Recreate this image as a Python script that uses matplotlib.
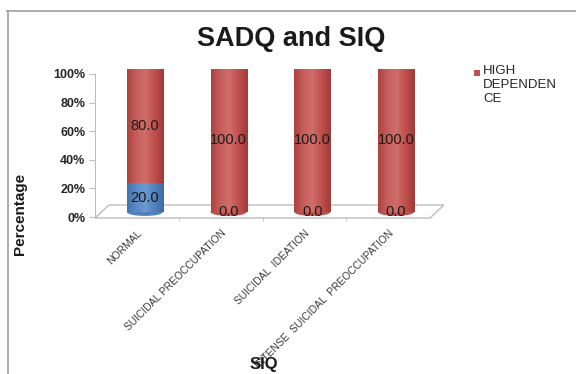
import numpy as np
import matplotlib
matplotlib.use('Agg')
import matplotlib.pyplot as plt
import matplotlib.transforms as mtransforms
from matplotlib.colors import LinearSegmentedColormap
from matplotlib.patches import Ellipse, Polygon, Rectangle
from matplotlib.lines import Line2D

plt.rcParams['font.family'] = ['Liberation Sans', 'DejaVu Sans']

categories = ['NORMAL', 'SUICIDAL PREOCCUPATION', 'SUICIDAL  IDEATION',
              'INTENSE  SUICIDAL  PREOCCUPATION']
lower_dep = [20.0, 0.0, 0.0, 0.0]
high_dep = [80.0, 100.0, 100.0, 100.0]
yticks = [0, 20, 40, 60, 80, 100]

W, H = 576, 374
fig = plt.figure(figsize=(W / 100, H / 100), dpi=100)


def fx(px):
    return px / W


def fy(py):
    return (H - py) / H


# outer chart border (only top and left visible in the crop)
fig.add_artist(Line2D([fx(7), fx(W)], [fy(11), fy(11)], color='#a6a6a6', lw=1.3))
fig.add_artist(Line2D([fx(8), fx(8)], [fy(11), fy(H)], color='#a6a6a6', lw=1.3))

ax_l, ax_r, ax_t, ax_b = 95, 430, 74, 217
ax = fig.add_axes([fx(ax_l), fy(ax_b), fx(ax_r - ax_l), (ax_b - ax_t) / H])
ax.patch.set_alpha(0)

# 3d floor
dx, dy = 14, 13
floor = Polygon([[fx(ax_l), fy(ax_b + 1)], [fx(ax_r), fy(ax_b + 1)],
                 [fx(ax_r + dx), fy(ax_b + 1 - dy)], [fx(ax_l + dx), fy(ax_b + 1 - dy)]],
                closed=True, transform=fig.transFigure, facecolor='white',
                edgecolor='#bdbdbd', lw=1.0, zorder=0)
fig.add_artist(floor)

# bars sit in the middle of the floor depth
shift = mtransforms.offset_copy(ax.transData, fig=fig, x=8, y=5, units='dots')

x = np.arange(len(categories))
bw = 0.43
series = [(lower_dep, '#4f81bd', ['#4372ad', '#5a8bc8', '#6c99d1', '#4f81bd', '#3d6ca5']),
          (high_dep, '#c0504d', ['#ad423f', '#c65f5c', '#cf6d6a', '#c0504d', '#a03b38'])]

grad = np.linspace(0, 1, 80).reshape(1, -1)
bottom = np.zeros(len(categories))
cap_h = 5.5
for vals, col, shades in series:
    cmap = LinearSegmentedColormap.from_list('cyl', shades)
    bars = ax.bar(x, vals, bw, bottom=bottom, color=col, transform=shift,
                  linewidth=0, zorder=3)
    for p in bars:
        if p.get_height() <= 0:
            continue
        x0, y0 = p.get_x(), p.get_y()
        im = ax.imshow(grad, cmap=cmap, aspect='auto', interpolation='bilinear',
                       extent=(x0, x0 + p.get_width(), y0, y0 + p.get_height()),
                       transform=shift, zorder=3.1)
        im.set_clip_path(p)
    for i, v in enumerate(vals):
        ax.text(x[i], bottom[i] + v / 2, f'{v:.1f}', transform=shift,
                ha='center', va='center', fontsize=10.5, color='#1a1a1a', zorder=6)
    bottom = bottom + np.array(vals)

# round bottoms and tops of the cylinders
for i in range(len(categories)):
    first = series[0][2] if lower_dep[i] > 0 else series[1][2]
    ax.add_patch(Ellipse((x[i], 0), bw, cap_h, transform=shift,
                         facecolor=first[3], edgecolor='none', zorder=2.9))
    top = series[1][2] if high_dep[i] > 0 else series[0][2]
    ax.add_patch(Ellipse((x[i], bottom[i]), bw, cap_h, transform=shift,
                         facecolor=top[1], edgecolor=top[0], lw=0.4, zorder=4))

ax.set_xlim(-0.5, len(categories) - 0.5)
ax.set_ylim(0, 100)

for s in ['top', 'right', 'bottom']:
    ax.spines[s].set_visible(False)
ax.spines['left'].set_color('#bdbdbd')

ax.set_yticks(yticks)
ax.set_yticklabels([f'{t}%' for t in yticks], fontsize=9, fontweight='bold', color='#262626')
ax.tick_params(axis='y', length=4, color='#bdbdbd', pad=3)

ax.set_xticks(x)
ax.set_xticklabels(categories, rotation=45, ha='right', va='top',
                   rotation_mode='anchor', fontsize=7.4, color='#3a3a3a')
ax.tick_params(axis='x', length=0, pad=8)
ax.set_xticks(x[:-1] + 0.5, minor=True)
ax.tick_params(axis='x', which='minor', length=3, color='#bdbdbd', direction='out')

fig.text(fx(291), fy(39), 'SADQ and SIQ', ha='center', va='center',
         fontsize=19.5, fontweight='bold', color='#1a1a1a')
fig.text(fx(20), fy(214), 'Percentage', rotation=90, ha='center', va='center',
         fontsize=11, fontweight='bold', color='#1a1a1a')
fig.text(fx(264), fy(365), 'SIQ', ha='center', va='center',
         fontsize=12, fontweight='bold', color='#1a1a1a')

# legend (only the high dependence entry is shown)
fig.add_artist(Rectangle((fx(474), fy(76)), fx(6), 6 / H, transform=fig.transFigure,
                         facecolor=series[1][1], edgecolor='none'))
fig.text(fx(483), fy(65), 'HIGH\nDEPENDEN\nCE', ha='left', va='top',
         fontsize=9.5, color='#262626', linespacing=1.2)

fig.savefig('out.png', dpi=100)
